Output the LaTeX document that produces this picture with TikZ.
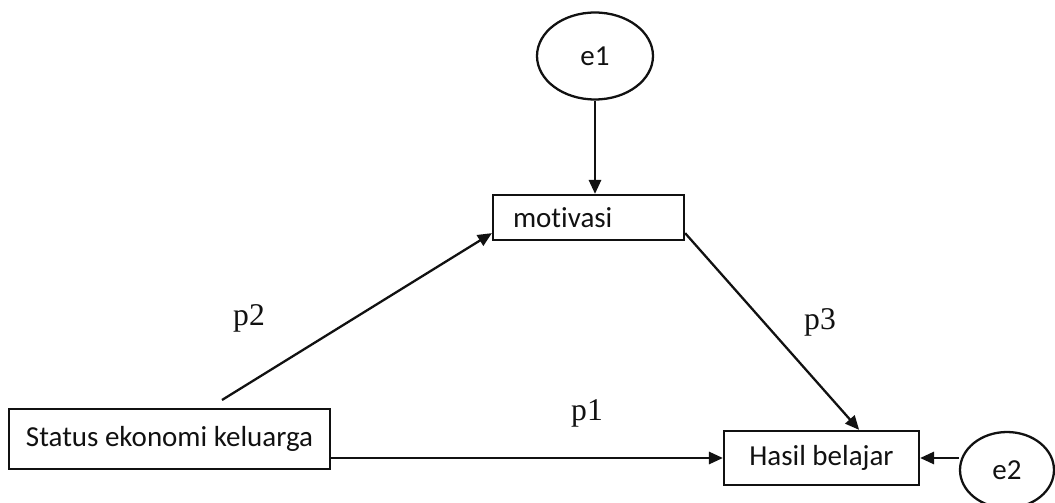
\documentclass[tikz,border=0pt]{standalone}
\usepackage{fontspec}
\setmainfont[Ligatures=NoCommon]{Carlito}
\newfontfamily\pathfont{Liberation Serif}
\usepackage{tikz}
\usetikzlibrary{calc,arrows.meta,shapes.geometric}
\definecolor{ink}{HTML}{111111}
\tikzset{
  var/.style={draw=ink, line width=1.3pt, rectangle, inner sep=0pt, font=\fontsize{16.5}{19}\selectfont, text=ink},
  err/.style={draw=ink, line width=1.3pt, ellipse, inner sep=0pt, font=\fontsize{16.5}{19}\selectfont, text=ink},
  path/.style={draw=ink, line width=1.3pt, -{Triangle[length=8pt,width=7pt]}},
  coef/.style={text=ink, font=\pathfont\fontsize{18}{21}\selectfont},
}
\begin{document}
\begin{tikzpicture}[x=0.02cm,y=-0.02cm]
  \useasboundingbox (0,0) rectangle (1055,503);

  \node[err,minimum width=2.32cm,minimum height=1.74cm] (e1) at (595,56) {e1};
  \node[err,minimum width=1.88cm,minimum height=1.52cm] (e2) at (1007,470) {e2};

  \node[var,minimum width=3.82cm,minimum height=0.9cm,text width=3.02cm,align=left] (motiv) at (588.5,217.5) {motivasi};
  \node[var,minimum width=6.42cm,minimum height=1.2cm] (stat) at (169.5,439) {Status ekonomi keluarga};
  \node[var,minimum width=3.9cm,minimum height=1.08cm] (hasil) at (821.5,458) {Hasil belajar};

  \coordinate (s2) at (222,400);

  \draw[path] (e1.south) -- (e1.south |- motiv.north);
  \draw[path] (s2) -- ($(motiv.south west)+(0,0.16cm)$);
  \draw[path] ($(motiv.south east)+(0,0.16cm)$) -- ($(hasil.north east)+(-1.22cm,0)$);
  \draw[path] (stat.east |- hasil.west) -- (hasil.west);
  \draw[path] (e2.west |- hasil.east) -- (hasil.east);

  \node[coef] (lp2) at (249,318) {p2};
  \node[coef] (lp1) at (587,413) {p1};
  \node[coef] (lp3) at (820,322) {p3};
\end{tikzpicture}
\end{document}
